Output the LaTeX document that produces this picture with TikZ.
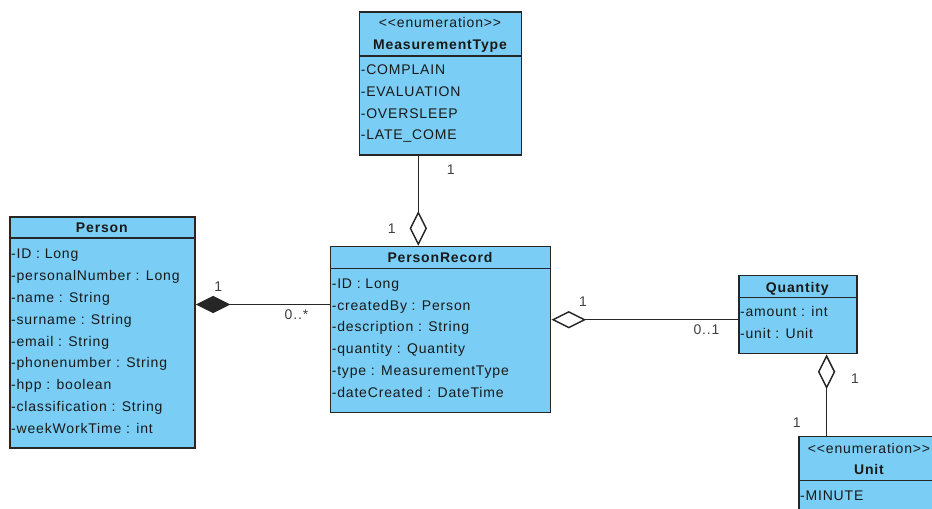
\documentclass[tikz,border=0pt]{standalone}
\usepackage{fontspec}
\setmainfont{Liberation Sans}[LetterSpace=6]
\usetikzlibrary{arrows.meta}

\definecolor{umlfill}{RGB}{122,206,245}
\definecolor{umlline}{RGB}{38,38,38}
\definecolor{umltext}{RGB}{25,25,25}

\newcommand{\enumtag}{{<}{<}enumeration{>}{>}}

\begin{document}
\begin{tikzpicture}[
  x=0.75pt, y=-0.75pt,
  font=\fontsize{10.5}{12}\selectfont,
  every node/.style={text=umltext, inner sep=0pt},
  cls/.style 2 args={draw=umlline, line width=1.1pt, fill=umlfill, anchor=north west,
                     minimum width=#1*0.75pt, minimum height=#2*0.75pt},
  divider/.style={draw=umlline, line width=0.9pt},
  clsname/.style={anchor=base, font=\fontsize{10.5}{12}\selectfont\bfseries},
  stereo/.style={anchor=base},
  attr/.style={anchor=base west},
  mult/.style={anchor=base, text=black!75},
  link/.style={draw=umlline, line width=1.1pt},
  comp/.style={link, {Diamond[length=26pt,width=13pt]}-},
  aggr/.style={link, {Diamond[fill=white,length=26pt,width=13pt]}-}
]
\useasboundingbox (0,0) rectangle (932,509);
\clip (0,0) rectangle (932,509);

% ---------------- MeasurementType ----------------
\node[cls={162}{143}] (mtype) at (359,11.5) {};
\draw[divider] (mtype.west |- 0,56) -- (mtype.east |- 0,56);
\node[stereo]  (mtype-st)   at (440,27.5) {\enumtag};
\node[clsname] (mtype-name) at (440,50)   {MeasurementType};
\foreach \t [count=\i from 0] in {-COMPLAIN, -EVALUATION, -OVERSLEEP, -LATE\_COME}
  \node[attr, name=mtype-a\i] at (360.5,74.3+21.9*\i) {\t};

% ---------------- Person ----------------
\node[cls={185}{231}] (person) at (9.3,216.5) {};
\draw[divider] (person.west |- 0,238) -- (person.east |- 0,238);
\node[clsname] (person-name) at (101.8,233) {Person};
\foreach \t [count=\i from 0] in {-ID : Long, -personalNumber : Long, -name : String,
    -surname : String, -email : String, -phonenumber : String, -hpp : boolean,
    -classification : String, -weekWorkTime : int}
  \node[attr, name=person-a\i] at (10.8,259+21.8*\i) {\t};

% ---------------- PersonRecord ----------------
\node[cls={220}{166}] (prec) at (330,245.7) {};
\draw[divider] (prec.west |- 0,268.3) -- (prec.east |- 0,268.3);
\node[clsname] (prec-name) at (440,262.7) {PersonRecord};
\foreach \t [count=\i from 0] in {-ID : Long, -createdBy : Person, -description : String,
    -quantity : Quantity, -type : MeasurementType, -dateCreated : DateTime}
  \node[attr, name=prec-a\i] at (331.5,288.3+21.8*\i) {\t};

% ---------------- Quantity ----------------
\node[cls={118}{78}] (qty) at (738.3,275) {};
\draw[divider] (qty.west |- 0,297.3) -- (qty.east |- 0,297.3);
\node[clsname] (qty-name) at (797.3,292.7) {Quantity};
\node[attr] (qty-a0) at (739.8,316.7) {-amount : int};
\node[attr] (qty-a1) at (739.8,338.3) {-unit : Unit};

% ---------------- Unit ----------------
\node[cls={142}{100}] (unit) at (798.3,435.7) {};
\draw[divider] (unit.west |- 0,480.7) -- (unit.east |- 0,480.7);
\node[stereo]  (unit-st)   at (869,453.3) {\enumtag};
\node[clsname] (unit-name) at (869,474.3) {Unit};
\node[attr] (unit-a0) at (799.8,500) {-MINUTE};

% ---------------- associations ----------------
\path (person.north east) ++(0,88) coordinate (person-out);
\draw[comp] (person-out) -- (person-out -| prec.west);
\node[mult] (m-person) at (218.3,291.7) {1};
\node[mult] (m-prec-l) at (296.5,320)   {0..*};

\path (prec.north west) ++(88.3,0) coordinate (prec-top);
\draw[aggr] (prec-top) -- (prec-top |- mtype.south);
\node[mult] (m-mtype)  at (450.7,175)   {1};
\node[mult] (m-prec-t) at (391.7,233.3) {1};

\path (prec.north east) ++(0,74) coordinate (prec-out);
\draw[aggr] (prec-out) -- (prec-out -| qty.west);
\node[mult] (m-prec-r) at (583,306.7) {1};
\node[mult] (m-qty-l)  at (706.5,335) {0..1};

\path (qty.south west) ++(88.3,0) coordinate (qty-bot);
\draw[aggr] (qty-bot) -- (qty-bot |- unit.north);
\node[mult] (m-qty-b) at (855,383.3)   {1};
\node[mult] (m-unit)  at (796.7,427.3) {1};

\end{tikzpicture}
\end{document}
